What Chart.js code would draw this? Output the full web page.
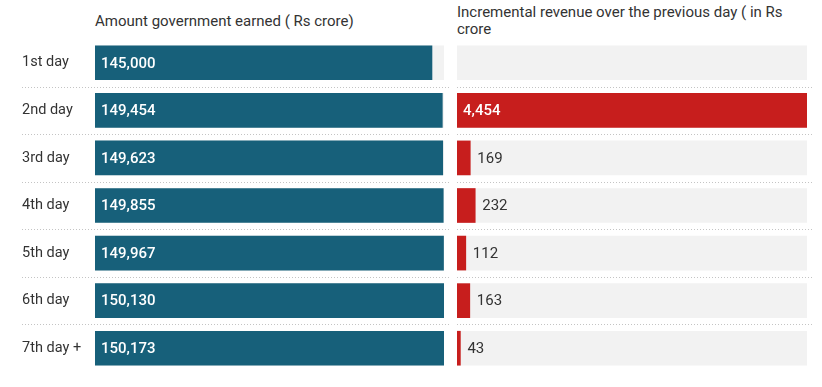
<!DOCTYPE html>
<html>
<head>
<meta charset="utf-8">
<script src="https://cdn.jsdelivr.net/npm/chart.js@4"></script>
<style>
  body { margin: 0; background: #fff; font-family: Roboto, sans-serif; }
  #wrap { position: relative; width: 822px; height: 387px; }
  .hd { position: absolute; font-size: 15px; color: #333; line-height: 17px; white-space: nowrap; }
  canvas { position: absolute; top: 0; }
</style>
</head>
<body>
<div id="wrap">
  <div class="hd" style="left:95px;top:13px">Amount government earned ( Rs crore)</div>
  <div class="hd" style="left:457px;top:4px">Incremental revenue over the previous day ( in Rs<br>crore</div>
  <canvas id="c1" width="450" height="387" style="left:0"></canvas>
  <canvas id="c2" width="372" height="387" style="left:450px"></canvas>
</div>
<script>
const days = ['1st day', '2nd day', '3rd day', '4th day', '5th day', '6th day', '7th day +'];
const earned = [145000, 149454, 149623, 149855, 149967, 150130, 150173];
const increment = [null, 4454, 169, 232, 112, 163, 43];

Chart.defaults.font.family = 'Roboto';

// dotted lines between the rows
const rowLines = {
  id: 'rowLines',
  beforeDatasetsDraw(chart, args, opts) {
    const y = chart.scales.y, ctx = chart.ctx;
    ctx.save();
    ctx.strokeStyle = '#c4c4c4';
    ctx.lineWidth = 1;
    ctx.setLineDash([1, 2]);
    for (let i = 0; i < days.length - 1; i++) {
      const py = Math.round((y.getPixelForValue(i) + y.getPixelForValue(i + 1)) / 2) + 0.5;
      ctx.beginPath();
      ctx.moveTo(opts.x0, py);
      ctx.lineTo(opts.x1, py);
      ctx.stroke();
    }
    ctx.restore();
  }
};

// numbers inside the bar, or after it when it does not fit
const valueLabels = {
  id: 'valueLabels',
  afterDatasetsDraw(chart) {
    const ctx = chart.ctx;
    const meta = chart.getDatasetMeta(0);
    const vals = chart.data.datasets[0].data;
    ctx.save();
    ctx.textBaseline = 'middle';
    ctx.textAlign = 'left';
    meta.data.forEach((bar, i) => {
      if (vals[i] == null) return;
      const txt = vals[i].toLocaleString('en-US');
      ctx.font = '500 15px Roboto';
      const w = ctx.measureText(txt).width;
      if (bar.x - bar.base >= w + 12) {
        ctx.fillStyle = '#fff';
        ctx.fillText(txt, bar.base + 6, bar.y + 1);
      } else {
        ctx.font = '400 15px Roboto';
        ctx.fillStyle = '#333';
        ctx.fillText(txt, bar.x + 7, bar.y + 1);
      }
    });
    ctx.restore();
  }
};

function makeChart(id, values, color, padding, lines, showDays) {
  const top = Math.max(...values.filter(v => v != null));
  return new Chart(document.getElementById(id), {
    type: 'bar',
    data: {
      labels: days,
      datasets: [
        { data: values, backgroundColor: color, barThickness: 34, grouped: false, order: 0 },
        { data: days.map(() => top), backgroundColor: '#f2f2f2', barThickness: 34, grouped: false, order: 1 }
      ]
    },
    options: {
      indexAxis: 'y',
      responsive: false,
      animation: false,
      layout: { padding: padding },
      plugins: {
        legend: { display: false },
        tooltip: { enabled: false },
        rowLines: lines
      },
      scales: {
        x: { display: false, min: 0, max: top },
        y: {
          display: showDays,
          grid: { display: false },
          border: { display: false },
          ticks: { color: '#333', font: { size: 14.5 }, crossAlign: 'far', padding: 0 },
          afterFit(scale) { scale.width = showDays ? 73 : 0; }
        }
      }
    },
    plugins: [rowLines, valueLabels]
  });
}

makeChart('c1', earned, '#17607a', { left: 22, right: 6, top: 39, bottom: 15 }, { x0: 22, x1: 450 }, true);
makeChart('c2', increment, '#c71e1d', { left: 7, right: 15, top: 39, bottom: 15 }, { x0: 7, x1: 362 }, false);
</script>
</body>
</html>
